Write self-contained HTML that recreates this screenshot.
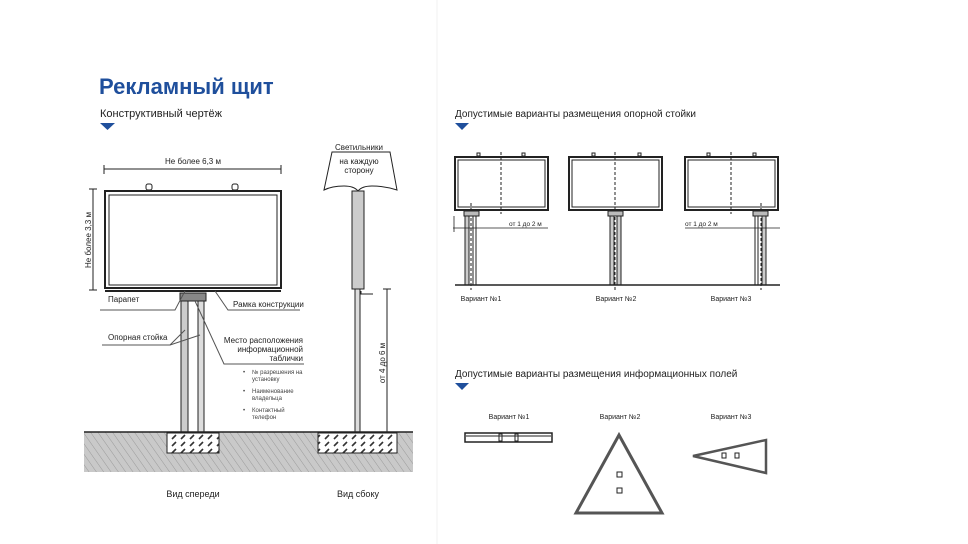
<!DOCTYPE html>
<html><head><meta charset="utf-8"><style>
html,body{margin:0;padding:0;background:#fff;}
svg{display:block;font-family:"Liberation Sans","DejaVu Sans",sans-serif;}
</style></head><body>
<svg width="968" height="544" viewBox="0 0 968 544" xmlns="http://www.w3.org/2000/svg">
<defs>
<pattern id="hatch" width="6" height="6" patternUnits="userSpaceOnUse" patternTransform="rotate(-35)">
<rect width="6" height="6" fill="#c9c9c9"/><line x1="0" y1="0" x2="0" y2="6" stroke="#9a9a9a" stroke-width="1"/></pattern>
<pattern id="conc" width="9" height="7" patternUnits="userSpaceOnUse">
<rect width="9" height="7" fill="#fff"/><line x1="1" y1="5" x2="5" y2="1" stroke="#333" stroke-width="1.6"/></pattern>
</defs>
<line x1="437" y1="0" x2="437" y2="544" stroke="#f2f2f2"/>
<text x="99" y="94" font-size="22" font-weight="bold" fill="#1f4f9c">Рекламный щит</text>
<text x="100" y="117" font-size="11" fill="#222">Конструктивный чертёж</text>
<polygon points="100,123 115,123 107.5,130" fill="#1f4f9c"/>

<!-- front view -->
<g stroke="#222" fill="none">
<line x1="104" y1="169" x2="281" y2="169"/><line x1="104" y1="165" x2="104" y2="174"/><line x1="281" y1="165" x2="281" y2="174"/>
<line x1="93" y1="189" x2="93" y2="290"/><line x1="89" y1="189" x2="97" y2="189"/><line x1="89" y1="290" x2="97" y2="290"/>
<rect x="105" y="191" width="176" height="97" stroke-width="2" fill="#fff"/>
<rect x="109" y="195" width="168" height="90" stroke-width="1"/>
<rect x="146" y="184" width="6" height="6" rx="2"/><rect x="232" y="184" width="6" height="6" rx="2"/>
<line x1="105" y1="291" x2="281" y2="291" stroke-width="2"/>
<rect x="180" y="293" width="26" height="8" fill="#888"/>
<rect x="181" y="301" width="7" height="131" fill="#ccc"/>
<rect x="198" y="301" width="6" height="131" fill="#ddd"/>
<polyline points="100,310 175,310 185,291" stroke="#555"/>
<polyline points="300,310 228,310 215,291" stroke="#555"/>
<polyline points="102,345 170,345 185,330" stroke="#555"/><line x1="170" y1="345" x2="200" y2="335" stroke="#555"/>
<polyline points="304,364 224,364 195,301" stroke="#555"/>
</g>
<text x="193" y="164" font-size="8" text-anchor="middle" fill="#222">Не более 6,3 м</text>
<text transform="translate(91,240) rotate(-90)" font-size="8" text-anchor="middle" fill="#222">Не более 3,3 м</text>
<text x="108" y="302" font-size="8" fill="#222">Парапет</text>
<text x="233" y="307" font-size="8" fill="#222">Рамка конструкции</text>
<text x="108" y="340" font-size="8" fill="#222">Опорная стойка</text>
<g font-size="8" fill="#222" text-anchor="end"><text x="303" y="343">Место расположения</text><text x="303" y="352">информационной</text><text x="303" y="361">таблички</text></g>
<g font-size="6" fill="#444"><text x="243" y="374">•</text><text x="252" y="374">№ разрешения на</text><text x="252" y="381">установку</text>
<text x="243" y="393">•</text><text x="252" y="393">Наименование</text><text x="252" y="400">владельца</text>
<text x="243" y="412">•</text><text x="252" y="412">Контактный</text><text x="252" y="419">телефон</text></g>

<!-- side view -->
<g stroke="#222" fill="none">
<path d="M332 152 L390 152 L397 190 Q384 186 372 186 Q362 186 358 191 Q354 186 344 186 Q332 186 324 190 Z" fill="#fff"/>
<rect x="352" y="191" width="12" height="98" fill="#ccc"/>
<rect x="355" y="289" width="5" height="143" fill="#ddd"/>
<polyline points="361,291 361,294 373,294"/>
<line x1="387" y1="289" x2="387" y2="432"/><line x1="383" y1="289" x2="391" y2="289"/>
</g>
<text x="359" y="150" font-size="8" text-anchor="middle" fill="#222">Светильники</text>
<text x="359" y="164" font-size="8" text-anchor="middle" fill="#222">на каждую</text>
<text x="359" y="173" font-size="8" text-anchor="middle" fill="#222">сторону</text>
<text transform="translate(385,363) rotate(-90)" font-size="8" text-anchor="middle" fill="#222">от 4 до 6 м</text>

<!-- ground -->
<rect x="84" y="432" width="329" height="40" fill="url(#hatch)"/>
<line x1="84" y1="432" x2="413" y2="432" stroke="#222" stroke-width="1.5"/>
<rect x="167" y="433" width="52" height="20" fill="url(#conc)" stroke="#222"/>
<rect x="318" y="433" width="79" height="20" fill="url(#conc)" stroke="#222"/>
<text x="193" y="497" font-size="9" text-anchor="middle" fill="#222">Вид спереди</text>
<text x="358" y="497" font-size="9" text-anchor="middle" fill="#222">Вид сбоку</text>

<!-- right top -->
<text x="455" y="117" font-size="10" fill="#222">Допустимые варианты размещения опорной стойки</text>
<polygon points="455,123 469,123 462,130" fill="#1f4f9c"/>
<g stroke="#222" fill="none">
<rect x="455" y="157" width="93" height="53" stroke-width="2" fill="#fff"/><rect x="458" y="160" width="87" height="47"/>
<rect x="569" y="157" width="93" height="53" stroke-width="2" fill="#fff"/><rect x="572" y="160" width="87" height="47"/>
<rect x="685" y="157" width="93" height="53" stroke-width="2" fill="#fff"/><rect x="688" y="160" width="87" height="47"/>
<g stroke-dasharray="3,2"><line x1="501" y1="152" x2="501" y2="214"/><line x1="615" y1="152" x2="615" y2="290"/><line x1="731" y1="152" x2="731" y2="214"/><line x1="471" y1="203" x2="471" y2="290"/><line x1="761" y1="203" x2="761" y2="290"/></g>
<rect x="477" y="153" width="3" height="3"/><rect x="522" y="153" width="3" height="3"/>
<rect x="592" y="153" width="3" height="3"/><rect x="638" y="153" width="3" height="3"/>
<rect x="707" y="153" width="3" height="3"/><rect x="753" y="153" width="3" height="3"/>
<rect x="464" y="211" width="15" height="5" fill="#bbb"/><rect x="608" y="211" width="15" height="5" fill="#bbb"/><rect x="753" y="211" width="15" height="5" fill="#bbb"/>
<rect x="465" y="216" width="4" height="69" fill="#ccc"/><rect x="473" y="216" width="3" height="69"/>
<rect x="610" y="216" width="4" height="69" fill="#ccc"/><rect x="617" y="216" width="4" height="69" fill="#ccc"/>
<rect x="755" y="216" width="3" height="69"/><rect x="762" y="216" width="4" height="69" fill="#ccc"/>
<line x1="453" y1="228" x2="548" y2="228" stroke-width="0.8"/><line x1="454" y1="216" x2="454" y2="232" stroke-width="0.8"/>
<line x1="685" y1="228" x2="780" y2="228" stroke-width="0.8"/>
<line x1="455" y1="285" x2="780" y2="285" stroke-width="1.5"/>
</g>
<g font-size="6.5" fill="#222"><text x="509" y="226">от 1 до 2 м</text><text x="685" y="226">от 1 до 2 м</text></g>
<g font-size="7" fill="#222" text-anchor="middle"><text x="481" y="301">Вариант №1</text><text x="616" y="301">Вариант №2</text><text x="731" y="301">Вариант №3</text></g>

<!-- right bottom -->
<text x="455" y="377" font-size="10" fill="#222">Допустимые варианты размещения информационных полей</text>
<polygon points="455,383 469,383 462,390" fill="#1f4f9c"/>
<g font-size="7" fill="#222" text-anchor="middle"><text x="509" y="419">Вариант №1</text><text x="620" y="419">Вариант №2</text><text x="731" y="419">Вариант №3</text></g>
<g stroke="#222" fill="none">
<rect x="465" y="433" width="87" height="9" fill="#fff" stroke-width="1.5"/><line x1="466" y1="436" x2="551" y2="436"/>
<rect x="499" y="434" width="3" height="7"/><rect x="515" y="434" width="3" height="7"/>
<polygon points="619,435 576,513 662,513" stroke="#555" stroke-width="3" fill="#fff" stroke-linejoin="miter"/>
<rect x="617" y="472" width="5" height="5"/><rect x="617" y="488" width="5" height="5"/>
<polygon points="693,456 766,440 766,473" stroke="#555" stroke-width="2.5" fill="#fff"/>
<rect x="722" y="453" width="4" height="5"/><rect x="735" y="453" width="4" height="5"/>
</g>
</svg>
</body></html>
